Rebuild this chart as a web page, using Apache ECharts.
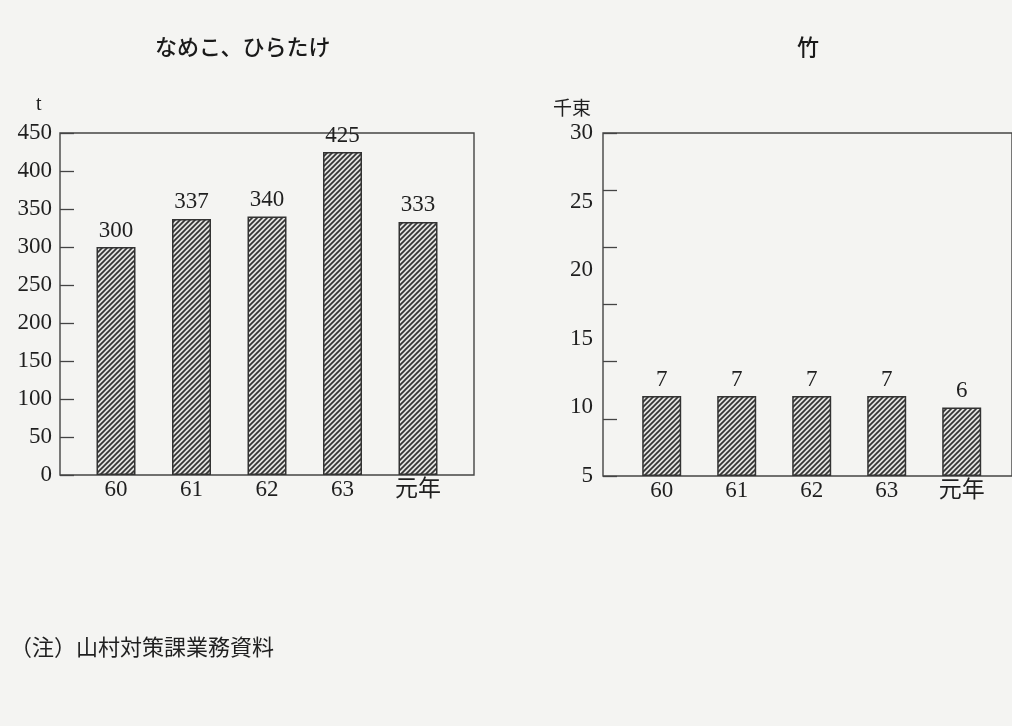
<!DOCTYPE html>
<html><head><meta charset="utf-8">
<script src="https://cdn.jsdelivr.net/npm/echarts@6/dist/echarts.min.js"></script>
<style>html,body{margin:0;padding:0;background:#f4f4f2}#c{width:1012px;height:726px}</style>
</head><body><div id="c"></div>
<script>
// ---- data ----
const categories = ['60', '61', '62', '63', '元年'];
const leftTitle = 'なめこ、ひらたけ';
const leftUnit = 't';
const leftValues = [300, 337, 340, 425, 333];
const leftAxisMin = 0, leftAxisMax = 450, leftAxisStep = 50;
const rightTitle = '竹';
const rightUnit = '千束';
const rightValues = [7, 7, 7, 7, 6];
const rightAxisMin = 0, rightAxisMax = 30, rightAxisStep = 5;       // scale of bars / tick marks
const rightLabelMin = 5, rightLabelMax = 30, rightLabelStep = 5;    // printed tick labels
const note = '（注）山村対策課業務資料';

// ---- styles ----
const ink = '#1f1f1f';
const serif = '"Liberation Serif","DejaVu Serif","Noto Sans CJK JP",serif';
const cjk = '"Noto Sans CJK JP","Noto Sans CJK SC",sans-serif';

function hatch() {
  const s = 5, c = document.createElement('canvas');
  c.width = s; c.height = s;
  const g = c.getContext('2d');
  g.fillStyle = '#e2e2e0'; g.fillRect(0, 0, s, s);
  g.strokeStyle = '#333'; g.lineWidth = 1.7;
  g.beginPath();
  g.moveTo(-1, s + 1); g.lineTo(s + 1, -1);
  g.moveTo(-1, 1); g.lineTo(1, -1);
  g.moveTo(s - 1, s + 1); g.lineTo(s + 1, s - 1);
  g.stroke();
  return c;
}
const pat = { image: hatch(), repeat: 'repeat' };

const chart = echarts.init(document.getElementById('c'), null, { renderer: 'canvas' });
const labelStyle = { color: ink, fontFamily: serif, fontSize: 23 };

chart.setOption({
  backgroundColor: '#f4f4f2',
  animation: false,
  grid: [
    { left: 60, top: 133, width: 414, height: 342, show: true, borderColor: '#444', borderWidth: 1.4, backgroundColor: 'transparent' },
    { left: 78.25, top: 133, width: 377.5, height: 342 },
    { left: 603, top: 133, width: 420, height: 343, show: true, borderColor: '#444', borderWidth: 1.4, backgroundColor: 'transparent' },
    { left: 624.2, top: 133, width: 375, height: 343 }
  ],
  xAxis: [
    { gridIndex: 0, type: 'category', data: categories, show: false },
    { gridIndex: 1, type: 'category', data: categories, axisLine: { show: false }, axisTick: { show: false },
      axisLabel: Object.assign({ margin: 3 }, labelStyle) },
    { gridIndex: 2, type: 'category', data: categories, show: false },
    { gridIndex: 3, type: 'category', data: categories, axisLine: { show: false }, axisTick: { show: false },
      axisLabel: Object.assign({ margin: 3 }, labelStyle) }
  ],
  yAxis: [
    { gridIndex: 0, type: 'value', min: leftAxisMin, max: leftAxisMax, interval: leftAxisStep,
      axisLine: { show: false }, splitLine: { show: false },
      axisTick: { show: true, inside: true, length: 14, lineStyle: { color: '#444', width: 1.3 } },
      axisLabel: Object.assign({ margin: 8 }, labelStyle) },
    { gridIndex: 1, type: 'value', min: leftAxisMin, max: leftAxisMax, show: false },
    { gridIndex: 2, type: 'value', min: rightAxisMin, max: rightAxisMax, interval: rightAxisStep,
      axisLine: { show: false }, splitLine: { show: false },
      axisTick: { show: true, inside: true, length: 14, lineStyle: { color: '#444', width: 1.3 } },
      axisLabel: { show: false } },
    { gridIndex: 2, type: 'value', position: 'left', min: rightLabelMin, max: rightLabelMax, interval: rightLabelStep,
      axisLine: { show: false }, splitLine: { show: false }, axisTick: { show: false },
      axisLabel: Object.assign({ margin: 10 }, labelStyle) },
    { gridIndex: 3, type: 'value', min: rightAxisMin, max: rightAxisMax, show: false }
  ],
  series: [
    { type: 'bar', xAxisIndex: 1, yAxisIndex: 1, data: leftValues, barWidth: 39,
      itemStyle: { color: pat, borderColor: '#333', borderWidth: 1.5 },
      label: Object.assign({ show: true, position: 'top', distance: 5 }, labelStyle) },
    { type: 'bar', xAxisIndex: 3, yAxisIndex: 4, data: rightValues, barWidth: 39,
      itemStyle: { color: pat, borderColor: '#333', borderWidth: 1.5 },
      label: Object.assign({ show: true, position: 'top', distance: 5 }, labelStyle) }
  ],
  graphic: [
    { type: 'text', left: 155, top: 36, style: { text: leftTitle, font: '500 22px ' + cjk, fill: '#1a1a1a' } },
    { type: 'text', left: 797, top: 36, style: { text: rightTitle, font: '500 22px ' + cjk, fill: '#1a1a1a' } },
    { type: 'text', left: 36, top: 95, style: { text: leftUnit, font: '20px ' + serif, fill: ink } },
    { type: 'text', left: 553, top: 98, style: { text: rightUnit, font: '19px ' + cjk, fill: ink } },
    { type: 'text', left: 10, top: 636, style: { text: note, font: '22px ' + cjk, fill: ink } }
  ]
});
</script></body></html>
